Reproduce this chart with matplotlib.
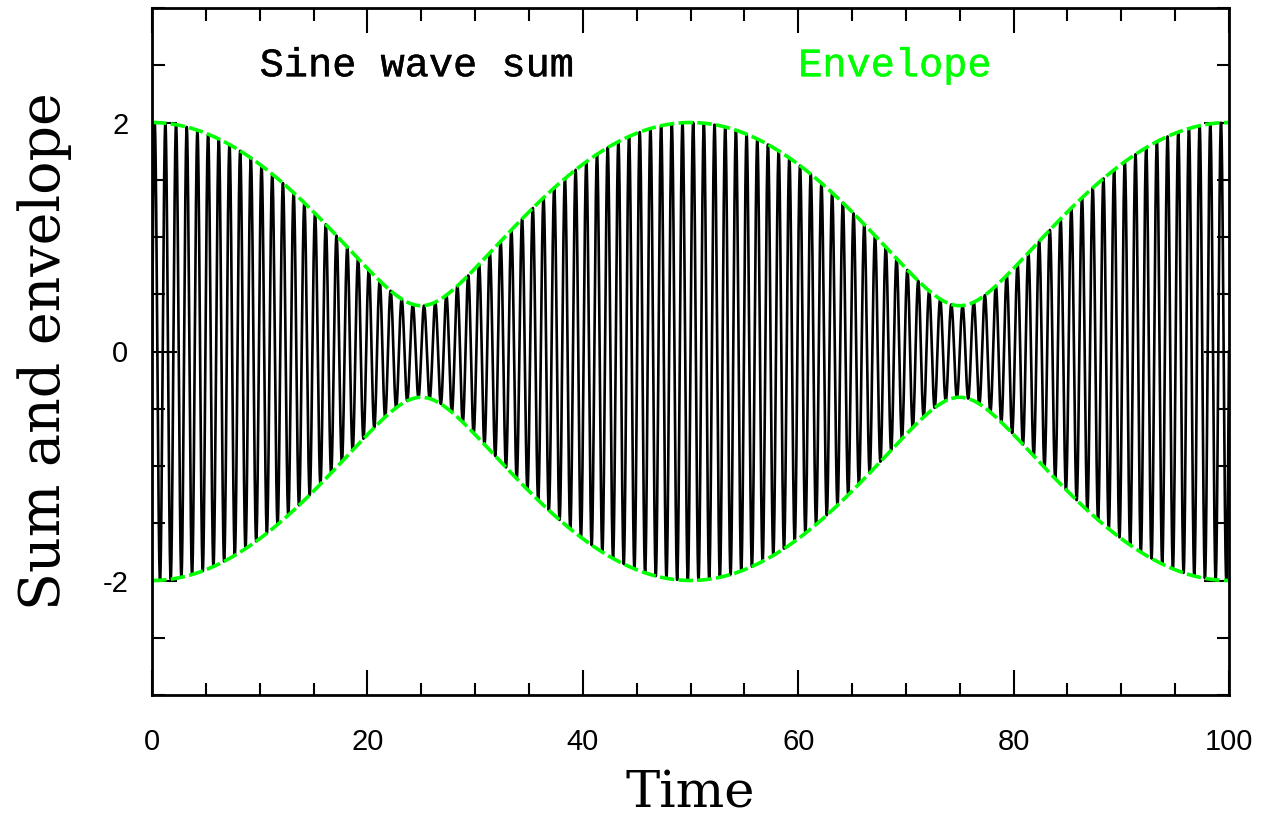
import numpy as np
import matplotlib.pyplot as plt
import matplotlib.patheffects as pe
from matplotlib.ticker import MultipleLocator

# Parameters
amp1 = 1.2          # envelope max 2, min 0.4
amp2 = 0.8
freq1 = 1.00        # about 100 cycles over t = 0..100
freq2 = 1.02        # beat period 50
t_max = 100.0
n_points = 20000

x_ticks = [0, 20, 40, 60, 80, 100]
y_ticks = [-2, 0, 2]

# Sum of two sine waves and its envelope
t = np.linspace(0, t_max, n_points)
y_sum = amp1 * np.sin(2 * np.pi * freq1 * t) + amp2 * np.sin(2 * np.pi * freq2 * t)
env = np.sqrt(amp1**2 + amp2**2 + 2 * amp1 * amp2 * np.cos(2 * np.pi * (freq2 - freq1) * t))

plt.rcParams['axes.unicode_minus'] = False
plt.rcParams['font.family'] = 'Liberation Sans'

green = '#00ff00'
serif = 'DejaVu Serif'
mono = 'Liberation Mono'

fig = plt.figure(figsize=(12.62, 8.18), dpi=100)
ax = fig.add_axes([152 / 1262, 1 - 695 / 818, 1077 / 1262, 687 / 818])

ax.plot(t, y_sum, color='black', lw=1.9)
ax.plot(t, env, color=green, lw=2.6, dashes=(4, 1.2))
ax.plot(t, -env, color=green, lw=2.6, dashes=(4, 1.2))

ax.set_xlim(0, 100)
ax.set_ylim(-3, 3)
ax.set_xticks(x_ticks)
ax.set_yticks(y_ticks)
ax.xaxis.set_minor_locator(MultipleLocator(5))
ax.yaxis.set_minor_locator(MultipleLocator(0.5))
ax.tick_params(which='both', direction='in', top=True, right=True, width=1.5)
ax.tick_params(which='major', length=18, labelsize=21)
ax.tick_params(which='minor', length=9)
ax.xaxis.set_tick_params(which='major', pad=24)
ax.yaxis.set_tick_params(which='major', pad=17)
for s in ax.spines.values():
    s.set_linewidth(2)

ax.set_xlabel('Time', fontsize=37, family=serif, labelpad=9)
ax.set_ylabel('Sum and envelope', fontsize=40, family=serif, labelpad=22)

ax.text(10, 2.5, 'Sine wave sum', fontsize=29, family=mono, va='center',
        path_effects=[pe.withStroke(linewidth=0.3, foreground='black')])
ax.text(60, 2.5, 'Envelope', fontsize=29, family=mono, color=green, va='center',
        path_effects=[pe.withStroke(linewidth=0.3, foreground=green)])

plt.savefig('out.png', dpi=100)
